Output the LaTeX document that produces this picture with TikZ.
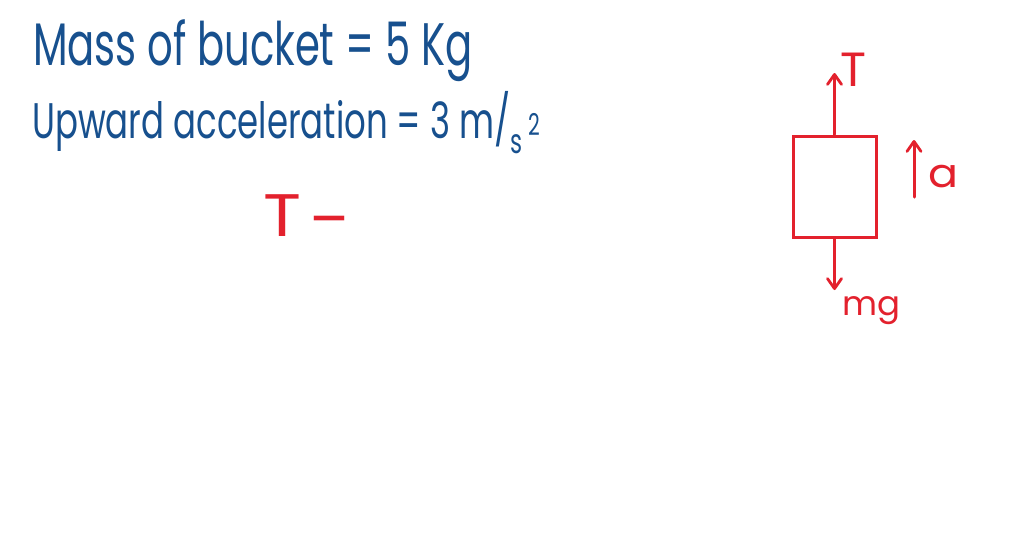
\documentclass[tikz,border=0pt]{standalone}
\usepackage{fontspec}
\setmainfont{Poppins}
\usetikzlibrary{arrows.meta}
\definecolor{inkblue}{HTML}{17508E}
\definecolor{inkred}{HTML}{E3212D}
\begin{document}
\begin{tikzpicture}[x=1pt,y=-1pt,
  bluetxt/.style={text=inkblue, anchor=base west, inner sep=0pt},
  redtxt/.style={text=inkred, inner sep=0pt},
  force/.style={draw=inkred, line width=3pt, line cap=round, -{Straight Barb[length=10pt,width=14pt,line width=2.8pt,round]}},
  bucketbox/.style={draw=inkred, line width=3pt, minimum width=83pt, minimum height=101pt, inner sep=0pt}
  ]
\useasboundingbox[fill=white] (0,0) rectangle (1024,558);
\node[bluetxt] (mass) at (33,65) {\resizebox{439pt}{\height}{\fontsize{60pt}{60pt}\selectfont Mass of bucket = 5 Kg}};
\node[bluetxt] (acc) at (32,138) {\resizebox{508pt}{\height}{\fontsize{50pt}{50pt}\selectfont Upward acceleration = 3 m/\raisebox{-15pt}{\fontsize{34pt}{34pt}\selectfont s}\,\raisebox{3pt}{\fontsize{30pt}{30pt}\selectfont 2}}};
\node[redtxt, font=\fontsize{60pt}{60pt}\selectfont] (bigT) at (282,216) {\resizebox{38pt}{\height}{T}};
\node[redtxt, font=\fontsize{60pt}{60pt}\selectfont] (minus) at (329,228) {\resizebox{42pt}{\height}{−}};
\node[bucketbox] (bucket) at (834.5,186.5) {};
\coordinate (Ttip) at (834.5,73);
\coordinate (mgtip) at (834.5,290);
\coordinate (abot) at (914,197);
\coordinate (atop) at (914,140);
\draw[force] (bucket.north) -- (Ttip);
\draw[force] (bucket.south) -- (mgtip);
\draw[force] (abot) -- (atop);
\node[redtxt, font=\fontsize{48pt}{48pt}\selectfont] (Tlbl) at (853,70) {T};
\node[redtxt, font=\fontsize{40pt}{40pt}\selectfont] (albl) at (943,177) {\resizebox{30pt}{\height}{a}};
\node[redtxt, font=\fontsize{34pt}{34pt}\selectfont] (mglbl) at (871,311) {mg};
\end{tikzpicture}
\end{document}
